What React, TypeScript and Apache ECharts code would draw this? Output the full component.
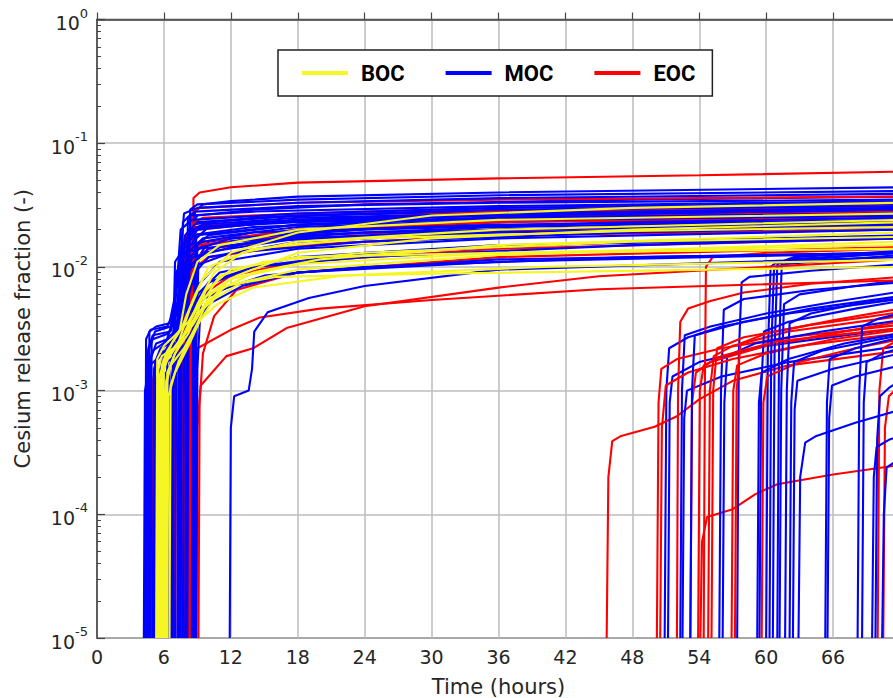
import React, { useEffect, useRef } from "react";
import * as echarts from "echarts";

type Pt = [number, number];

// Tick labels
const xTicks: number[] = [0, 6, 12, 18, 24, 30, 36, 42, 48, 54, 60, 66];
const legendNames: string[] = ["BOC", "MOC", "EOC"];

// BOC (yellow) runs: [time (h), Cs release fraction]
const bocLines: Pt[][] = [
  [[5.4, 1e-5], [5.5, 1.5e-3], [5.8, 1.9e-3], [7.2, 2.3e-3], [8.3, 4.5e-3], [9.5, 8e-3], [12, 1.3e-2], [18, 1.9e-2], [30, 2.6e-2], [48, 3.0e-2], [72, 3.3e-2]],
  [[5.6, 1e-5], [5.7, 1.2e-3], [6.2, 1.7e-3], [7.5, 2.6e-3], [8.6, 3.4e-3], [10.2, 6e-3], [12.5, 8.5e-3], [18, 1.3e-2], [30, 1.7e-2], [48, 2.0e-2], [72, 2.3e-2]],
  [[5.8, 1e-5], [5.9, 1.4e-3], [6.5, 2.0e-3], [8.0, 3.0e-3], [9.0, 4.2e-3], [11, 6.5e-3], [14, 9e-3], [20, 1.15e-2], [36, 1.5e-2], [72, 1.9e-2]],
  [[6.0, 1e-5], [6.1, 1.0e-3], [6.6, 1.6e-3], [7.8, 2.2e-3], [8.8, 3.2e-3], [10.5, 5.5e-3], [13, 7.5e-3], [18, 9.5e-3], [36, 1.25e-2], [72, 1.6e-2]],
  [[5.3, 1e-5], [5.4, 1.8e-3], [6.0, 2.3e-3], [7.0, 2.8e-3], [8.2, 3.6e-3], [9.8, 6.5e-3], [12, 9.5e-3], [18, 1.2e-2], [36, 1.3e-2], [72, 1.4e-2]],
  [[6.3, 1e-5], [6.4, 9e-4], [7.0, 1.4e-3], [8.3, 2.4e-3], [9.3, 3.8e-3], [10.8, 5e-3], [14, 6.8e-3], [22, 8.5e-3], [40, 1.0e-2], [72, 1.14e-2]],
  [[6.5, 1e-5], [6.6, 1.1e-3], [7.3, 1.7e-3], [8.5, 2.8e-3], [9.6, 4.6e-3], [11.5, 7e-3], [16, 8.3e-3], [30, 8.8e-3], [72, 1.0e-2]],
  [[5.5, 1e-5], [5.6, 1.3e-3], [6.1, 1.8e-3], [7.6, 2.5e-3], [9.0, 5e-3], [10.5, 9e-3], [13, 1.3e-2], [18, 1.6e-2], [36, 2.0e-2], [72, 2.4e-2]],
  [[6.1, 1e-5], [6.2, 1.2e-3], [6.9, 1.9e-3], [8.1, 3.3e-3], [9.4, 5.5e-3], [12, 8e-3], [18, 1.05e-2], [36, 1.3e-2], [72, 1.5e-2]],
  [[5.7, 1e-5], [5.8, 1.6e-3], [6.3, 2.1e-3], [7.4, 3.0e-3], [8.0, 6e-3], [9.0, 1.1e-2], [11, 1.5e-2], [18, 2.0e-2], [36, 2.4e-2], [72, 2.7e-2]],
  [[6.2, 1e-5], [6.3, 1.4e-3], [7.0, 2.0e-3], [8.2, 2.9e-3], [9.2, 4.8e-3], [11, 8.5e-3], [15, 1.1e-2], [24, 1.3e-2], [48, 1.6e-2], [72, 1.75e-2]],
  [[5.9, 1e-5], [6.0, 1.7e-3], [6.7, 2.4e-3], [7.7, 3.4e-3], [8.8, 6e-3], [10, 1.0e-2], [14, 1.4e-2], [24, 1.7e-2], [48, 1.95e-2], [72, 2.1e-2]],
];

// MOC (blue) runs, early release
const mocEarly: Pt[][] = [
  [[8.3, 1e-5], [8.4, 1e-3], [8.5, 1.5e-2], [8.8, 2.8e-2], [9.5, 3.2e-2], [12, 3.4e-2], [18, 3.7e-2], [36, 4.0e-2], [72, 4.4e-2]],
  [[8.2, 1e-5], [8.3, 2e-3], [8.45, 2.2e-2], [9, 2.6e-2], [14, 2.9e-2], [24, 3.2e-2], [48, 3.5e-2], [72, 3.7e-2]],
  [[7.6, 1e-5], [7.7, 2e-3], [7.85, 1.7e-2], [8.5, 2.2e-2], [14, 2.5e-2], [30, 2.8e-2], [72, 3.2e-2]],
  [[8.5, 1e-5], [8.6, 3e-3], [8.8, 2.0e-2], [10, 2.3e-2], [18, 2.6e-2], [36, 2.8e-2], [72, 3.0e-2]],
  [[7.2, 1e-5], [7.3, 2e-3], [7.5, 1.4e-2], [8.3, 1.8e-2], [14, 2.1e-2], [36, 2.5e-2], [72, 2.8e-2]],
  [[8.8, 1e-5], [8.9, 2e-3], [9.1, 1.2e-2], [10, 1.6e-2], [18, 2.0e-2], [36, 2.4e-2], [72, 2.7e-2]],
  [[4.3, 1e-5], [4.4, 2.6e-3], [4.8, 3.1e-3], [6.3, 3.3e-3], [7.2, 5e-3], [7.6, 1.4e-2], [8.5, 2.0e-2], [14, 2.3e-2], [36, 2.6e-2], [72, 2.9e-2]],
  [[4.5, 1e-5], [4.6, 2.2e-3], [5.0, 2.8e-3], [6.6, 3.0e-3], [7.4, 6e-3], [8.0, 1.1e-2], [9.5, 1.5e-2], [18, 1.9e-2], [36, 2.3e-2], [72, 2.6e-2]],
  [[4.7, 1e-5], [4.8, 1.8e-3], [5.3, 2.4e-3], [6.8, 2.7e-3], [7.6, 4e-3], [8.3, 8e-3], [10, 1.2e-2], [18, 1.6e-2], [36, 1.9e-2], [72, 2.2e-2]],
  [[5.0, 1e-5], [5.1, 1.5e-3], [5.6, 2e-3], [7.0, 2.3e-3], [8.0, 3.5e-3], [9.0, 7e-3], [11, 1.1e-2], [18, 1.4e-2], [36, 1.7e-2], [72, 2.0e-2]],
  [[4.2, 1e-5], [4.3, 1.0e-3], [4.7, 1.6e-3], [6.0, 2e-3], [7.1, 3e-3], [7.7, 1.2e-2], [9, 1.8e-2], [18, 2.2e-2], [36, 2.5e-2], [72, 2.7e-2]],
  [[6.8, 1e-5], [6.9, 1.5e-3], [7.1, 9e-3], [8, 1.3e-2], [12, 1.7e-2], [24, 2.0e-2], [48, 2.3e-2], [72, 2.5e-2]],
  [[7.0, 1e-5], [7.1, 1.5e-3], [7.3, 6e-3], [8.5, 1.0e-2], [12, 1.3e-2], [24, 1.6e-2], [48, 1.9e-2], [72, 2.1e-2]],
  [[7.4, 1e-5], [7.5, 2.5e-3], [7.7, 2.3e-2], [8.3, 2.6e-2], [14, 2.8e-2], [36, 3.1e-2], [72, 3.4e-2]],
  [[8.0, 1e-5], [8.1, 2e-3], [8.25, 1.6e-2], [9, 2e-2], [18, 2.4e-2], [36, 2.7e-2], [72, 3.0e-2]],
  [[5.2, 1e-5], [5.3, 1.2e-3], [5.8, 1.6e-3], [7.4, 2.0e-3], [8.6, 3e-3], [10, 5e-3], [13, 7e-3], [18, 9e-3], [36, 1.15e-2], [72, 1.3e-2]],
  [[5.4, 1e-5], [5.5, 1.0e-3], [6.2, 1.4e-3], [7.8, 2.2e-3], [9.2, 4e-3], [11, 6.5e-3], [15, 8.5e-3], [24, 1.0e-2], [48, 1.2e-2], [72, 1.3e-2]],
  [[7.7, 1e-5], [7.8, 1.8e-3], [8.2, 3.5e-3], [9.5, 5.5e-3], [12, 7e-3], [18, 9e-3], [36, 1.1e-2], [72, 1.3e-2]],
  [[6.6, 1e-5], [6.7, 1.3e-3], [7.2, 2.4e-3], [8.4, 4.5e-3], [10, 7.5e-3], [14, 1.0e-2], [24, 1.2e-2], [48, 1.5e-2], [72, 1.7e-2]],
  [[6.2, 1e-5], [6.3, 2e-3], [6.8, 2.9e-3], [7.6, 4.5e-3], [8.2, 1.0e-2], [10, 1.4e-2], [18, 1.8e-2], [36, 2.1e-2], [72, 2.4e-2]],
  [[11.9, 1e-5], [12.0, 5e-4], [12.3, 9e-4], [13.6, 1.0e-3], [13.9, 1.5e-3], [14.1, 3e-3], [15.3, 4.3e-3], [19, 5.6e-3], [24, 7e-3], [36, 9.5e-3], [72, 1.2e-2]],
  [[8.9, 1e-5], [9.0, 1.5e-3], [9.3, 5e-3], [10.5, 7.5e-3], [14, 1.0e-2], [24, 1.3e-2], [48, 1.6e-2], [72, 1.8e-2]],
  [[4.8, 1e-5], [4.9, 2.5e-3], [5.2, 3.0e-3], [6.6, 3.3e-3], [7.1, 6e-3], [7.5, 2.0e-2], [8.5, 2.4e-2], [18, 2.7e-2], [36, 3.0e-2], [72, 3.3e-2]],
  [[5.7, 1e-5], [5.8, 2.2e-3], [6.4, 2.7e-3], [7.3, 3.2e-3], [7.9, 1.6e-2], [9, 2.1e-2], [18, 2.4e-2], [36, 2.6e-2], [72, 2.9e-2]],
  [[8.6, 1e-5], [8.7, 2.5e-3], [8.9, 1.7e-2], [10, 2.1e-2], [18, 2.3e-2], [36, 2.5e-2], [72, 2.6e-2]],
  [[6.4, 1e-5], [6.5, 1.5e-3], [7.0, 2.0e-3], [8.0, 5e-3], [9.2, 1.2e-2], [12, 1.6e-2], [24, 1.9e-2], [48, 2.1e-2], [72, 2.3e-2]],
  [[7.5, 1e-5], [7.6, 2e-3], [7.8, 1.05e-2], [9, 1.4e-2], [18, 1.7e-2], [36, 1.9e-2], [72, 2.1e-2]],
  [[4.6, 1e-5], [4.7, 3.0e-3], [5.3, 3.3e-3], [6.5, 3.5e-3], [7.3, 8e-3], [7.8, 2.7e-2], [9, 3.0e-2], [18, 3.3e-2], [36, 3.6e-2], [72, 3.9e-2]],
  [[4.4, 1e-5], [4.5, 2.0e-3], [5.0, 2.6e-3], [6.4, 2.9e-3], [7.3, 4.5e-3], [7.9, 1.8e-2], [9, 2.3e-2], [18, 2.6e-2], [36, 2.9e-2], [72, 3.1e-2]],
  [[5.1, 1e-5], [5.2, 1.7e-3], [5.7, 2.2e-3], [7.1, 2.6e-3], [7.7, 5e-3], [8.2, 1.9e-2], [9.5, 2.2e-2], [18, 2.5e-2], [36, 2.7e-2], [72, 2.9e-2]],
  [[5.9, 1e-5], [6.0, 1.9e-3], [6.6, 2.5e-3], [7.5, 3.5e-3], [8.1, 1.3e-2], [9.5, 1.7e-2], [18, 2.1e-2], [36, 2.4e-2], [72, 2.6e-2]],
  [[7.9, 1e-5], [8.0, 2e-3], [8.15, 2.5e-2], [8.8, 2.8e-2], [18, 3.1e-2], [36, 3.3e-2], [72, 3.5e-2]],
  [[8.7, 1e-5], [8.8, 2e-3], [9.0, 1.5e-2], [10, 1.8e-2], [18, 2.2e-2], [36, 2.5e-2], [72, 2.7e-2]],
  [[6.0, 1e-5], [6.1, 1.2e-3], [6.7, 1.8e-3], [8.0, 3e-3], [9.0, 6e-3], [11, 9e-3], [18, 1.2e-2], [36, 1.5e-2], [72, 1.7e-2]],
  [[7.3, 1e-5], [7.4, 1.8e-3], [7.6, 8e-3], [8.6, 1.2e-2], [14, 1.6e-2], [36, 2.0e-2], [72, 2.2e-2]],
  [[4.4, 1e-5], [4.5, 1.5e-3], [5.0, 2.1e-3], [6.2, 2.5e-3], [7.0, 4e-3], [7.8, 9e-3], [9.5, 1.3e-2], [18, 1.7e-2], [36, 2.0e-2], [72, 2.3e-2]],
  [[8.1, 1e-5], [8.2, 2e-3], [8.35, 2.9e-2], [9, 3.2e-2], [18, 3.5e-2], [36, 3.8e-2], [72, 4.1e-2]],
  [[6.7, 1e-5], [6.8, 2e-3], [7.0, 1.1e-2], [8, 1.5e-2], [14, 1.9e-2], [36, 2.2e-2], [72, 2.4e-2]],
];

// EOC (red) runs, early release
const eocEarly: Pt[][] = [
  [[8.4, 1e-5], [8.5, 5e-4], [8.65, 3.6e-2], [9.2, 4.0e-2], [12, 4.4e-2], [18, 4.8e-2], [36, 5.2e-2], [54, 5.5e-2], [72, 5.9e-2]],
  [[8.9, 1e-5], [9.0, 5e-4], [9.3, 1.1e-3], [11.6, 1.9e-3], [14, 2.2e-3], [17, 3.2e-3], [24, 4.8e-3], [36, 6.8e-3], [45, 8.4e-3], [72, 1.15e-2]],
  [[8.5, 1e-5], [8.6, 1.2e-3], [9.0, 2.2e-3], [12, 3.1e-3], [14.6, 3.9e-3], [20, 4.6e-3], [30, 5.4e-3], [45, 6.6e-3], [72, 7.8e-3]],
  [[7.4, 1e-5], [7.5, 1e-3], [7.6, 6.5e-3], [8.2, 9e-3], [10, 1.2e-2], [18, 1.5e-2], [36, 1.8e-2], [72, 2.0e-2]],
  [[4.9, 1e-5], [5.0, 1.2e-3], [5.4, 1.8e-3], [6.5, 2.2e-3], [7.3, 3.5e-3], [8.0, 1.5e-2], [9, 2.0e-2], [18, 2.4e-2], [36, 2.8e-2], [72, 3.1e-2]],
  [[7.8, 1e-5], [7.9, 2e-3], [8.05, 1.8e-2], [8.6, 2.1e-2], [14, 2.3e-2], [36, 2.6e-2], [72, 2.8e-2]],
  [[8.2, 1e-5], [8.3, 2e-3], [8.5, 2.7e-2], [9.2, 3.0e-2], [18, 3.3e-2], [36, 3.5e-2], [72, 3.7e-2]],
  [[7.0, 1e-5], [7.1, 1.8e-3], [7.4, 4e-3], [8.4, 1.1e-2], [10, 1.4e-2], [18, 1.7e-2], [48, 2.1e-2], [72, 2.3e-2]],
  [[6.9, 1e-5], [7.0, 1.5e-3], [7.5, 3e-3], [9.5, 6e-3], [12, 8.5e-3], [18, 1.1e-2], [36, 1.4e-2], [72, 1.7e-2]],
  [[8.3, 1e-5], [8.4, 2e-3], [8.6, 1.3e-2], [9.5, 1.6e-2], [18, 2.0e-2], [36, 2.3e-2], [72, 2.5e-2]],
  [[9.1, 1e-5], [9.2, 8e-4], [9.5, 2.0e-3], [10.5, 4e-3], [12.5, 6.5e-3], [18, 9e-3], [36, 1.2e-2], [72, 1.45e-2]],
  [[7.6, 1e-5], [7.7, 1.5e-3], [7.9, 1.2e-2], [8.8, 1.5e-2], [18, 1.8e-2], [36, 2.0e-2], [72, 2.2e-2]],
  [[8.1, 1e-5], [8.2, 2e-3], [8.4, 2.2e-2], [9.5, 2.5e-2], [18, 2.7e-2], [36, 3.0e-2], [72, 3.3e-2]],
];

// EOC (red) runs, late release
const eocLate: Pt[][] = [
  [[45.7, 1e-5], [45.85, 2e-4], [46.2, 3.9e-4], [47, 4.3e-4], [50, 5.1e-4], [52, 6.2e-4], [54, 8.5e-4], [57, 1.2e-3], [62, 1.6e-3], [72, 2.1e-3]],
  [[54.1, 1e-5], [54.25, 6e-5], [54.7, 9.5e-5], [57, 1.1e-4], [59, 1.45e-4], [61, 1.75e-4], [66, 2.1e-4], [72, 2.5e-4]],
  [[54.4, 1e-5], [54.5, 1e-3], [54.6, 1.0e-2], [55.2, 1.2e-2], [60, 1.3e-2], [72, 1.4e-2]],
  [[52.0, 1e-5], [52.1, 1e-3], [52.3, 3.6e-3], [53, 4.6e-3], [55, 5.3e-3], [58, 6.2e-3], [64, 7.3e-3], [72, 8.3e-3]],
  [[50.2, 1e-5], [50.35, 8e-4], [50.6, 1.5e-3], [52, 1.8e-3], [56, 2.2e-3], [62, 2.7e-3], [72, 3.4e-3]],
  [[50.5, 1e-5], [50.65, 5e-4], [51, 1.1e-3], [53, 1.4e-3], [57, 1.8e-3], [63, 2.3e-3], [72, 2.9e-3]],
  [[53.2, 1e-5], [53.35, 8e-4], [53.7, 1.4e-3], [55, 1.7e-3], [60, 2.3e-3], [66, 2.9e-3], [72, 3.6e-3]],
  [[54.8, 1e-5], [54.95, 1e-3], [55.3, 1.9e-3], [57, 2.3e-3], [62, 3.0e-3], [72, 4.0e-3]],
  [[55.1, 1e-5], [55.25, 1e-3], [55.6, 2.2e-3], [58, 2.7e-3], [64, 3.4e-3], [72, 4.3e-3]],
  [[56.9, 1e-5], [57.05, 1e-3], [57.4, 1.6e-3], [60, 2.0e-3], [66, 2.6e-3], [72, 3.1e-3]],
  [[57.2, 1e-5], [57.35, 1e-3], [57.7, 2.4e-3], [60, 2.9e-3], [66, 3.7e-3], [72, 4.6e-3]],
  [[59.6, 1e-5], [59.75, 8e-4], [60.1, 1.3e-3], [63, 1.7e-3], [68, 2.2e-3], [72, 2.6e-3]],
  [[70.0, 1e-5], [70.15, 1e-3], [70.5, 2.2e-3], [72, 2.6e-3]],
  [[70.5, 1e-5], [70.65, 5e-4], [71, 9e-4], [72, 1.1e-3]],
  [[53.9, 1e-5], [54.05, 1e-3], [54.4, 1.6e-3], [56, 1.9e-3], [61, 2.5e-3], [72, 3.2e-3]],
];

// MOC (blue) runs, late release
const mocLate: Pt[][] = [
  [[50.9, 1e-5], [51.05, 1e-3], [51.3, 2.2e-3], [53, 2.7e-3], [58, 3.6e-3], [64, 4.6e-3], [72, 5.8e-3]],
  [[51.2, 1e-5], [51.35, 8e-4], [51.6, 1.3e-3], [54, 1.7e-3], [60, 2.3e-3], [72, 3.2e-3]],
  [[52.3, 1e-5], [52.45, 1e-3], [52.7, 2.8e-3], [55, 3.3e-3], [60, 4.2e-3], [66, 5.2e-3], [72, 6.3e-3]],
  [[52.5, 1e-5], [52.65, 6e-4], [52.9, 1.0e-3], [56, 1.3e-3], [62, 1.7e-3], [72, 2.3e-3]],
  [[55.8, 1e-5], [55.95, 1e-3], [56.2, 4.5e-3], [58, 5.5e-3], [64, 6.5e-3], [72, 7.5e-3]],
  [[56.1, 1e-5], [56.25, 8e-4], [56.5, 1.9e-3], [59, 2.4e-3], [65, 3.0e-3], [72, 3.7e-3]],
  [[57.4, 1e-5], [57.55, 2e-3], [57.8, 7.5e-3], [58.5, 8.3e-3], [64, 9.3e-3], [72, 1.05e-2]],
  [[59.2, 1e-5], [59.35, 8e-4], [59.6, 1.4e-3], [62, 1.8e-3], [67, 2.4e-3], [72, 2.9e-3]],
  [[59.4, 1e-5], [59.55, 1e-3], [59.8, 3.0e-3], [62, 3.6e-3], [68, 4.6e-3], [72, 5.3e-3]],
  [[60.0, 1e-5], [60.15, 2e-3], [60.4, 1.0e-2], [61, 1.1e-2], [66, 1.2e-2], [72, 1.3e-2]],
  [[60.6, 1e-5], [60.75, 2e-3], [61.0, 1.05e-2], [62, 1.15e-2], [72, 1.3e-2]],
  [[61.0, 1e-5], [61.15, 2e-3], [61.4, 1.1e-2], [62.5, 1.2e-2], [72, 1.35e-2]],
  [[61.2, 1e-5], [61.35, 1e-3], [61.6, 5e-3], [63, 6e-3], [68, 7e-3], [72, 7.8e-3]],
  [[61.7, 1e-5], [61.85, 1e-3], [62.1, 3.5e-3], [64, 4.2e-3], [68, 5e-3], [72, 5.6e-3]],
  [[62.1, 1e-5], [62.25, 8e-4], [62.5, 1.7e-3], [65, 2.1e-3], [72, 2.8e-3]],
  [[62.4, 1e-5], [62.55, 7e-4], [62.8, 1.2e-3], [66, 1.5e-3], [72, 2.0e-3]],
  [[62.9, 1e-5], [63.05, 2e-4], [63.5, 3.8e-4], [64.5, 4.3e-4], [68, 5.5e-4], [72, 7e-4]],
  [[65.3, 1e-5], [65.45, 8e-4], [65.7, 1.8e-3], [68, 2.2e-3], [72, 2.7e-3]],
  [[65.5, 1e-5], [65.65, 6e-4], [65.9, 1.1e-3], [68, 1.3e-3], [72, 1.6e-3]],
  [[68.2, 1e-5], [68.35, 1e-3], [68.6, 3.3e-3], [70, 3.8e-3], [72, 4.2e-3]],
  [[68.6, 1e-5], [68.75, 8e-4], [69, 1.7e-3], [70.5, 2e-3], [72, 2.2e-3]],
  [[69.5, 1e-5], [69.65, 2e-4], [69.9, 3.5e-4], [71, 4e-4], [72, 4.3e-4]],
  [[69.8, 1e-5], [69.95, 4e-4], [70.2, 9e-4], [71, 1.05e-3], [72, 1.2e-3]],
  [[70.4, 1e-5], [70.55, 1e-4], [70.8, 2.4e-4], [72, 2.8e-4]],
  [[53.2, 1e-5], [53.35, 1e-3], [53.6, 2.8e-3], [56, 3.3e-3], [62, 4.2e-3], [72, 5.5e-3]],
  [[60.3, 1e-5], [60.45, 2e-3], [60.7, 9.5e-3], [61.5, 1.05e-2], [72, 1.25e-2]],
];

const COLORS: Record<string, string> = { BOC: "#f6f625", MOC: "#0000ff", EOC: "#ff0000" };
const FONT = "'DejaVu Sans', sans-serif";

function lineSeries(name: string, data: Pt[]) {
  return {
    type: "line",
    name,
    data,
    color: COLORS[name],
    symbol: "none",
    showSymbol: false,
    silent: true,
    lineStyle: { color: COLORS[name], width: 2.1 },
    z: 3,
  };
}

export default function App() {
  const ref = useRef<HTMLDivElement>(null);
  useEffect(() => {
    if (!ref.current) return;
    const chart = echarts.init(ref.current, null, { renderer: "svg" });

    const series: any[] = [];
    const nLate = Math.max(eocLate.length, mocLate.length);
    for (let i = 0; i < nLate; i++) {
      if (mocLate[i]) series.push(lineSeries("MOC", mocLate[i]));
      if (eocLate[i]) series.push(lineSeries("EOC", eocLate[i]));
    }
    const nEarly = Math.max(eocEarly.length, mocEarly.length);
    for (let i = 0; i < nEarly; i++) {
      if (eocEarly[i]) series.push(lineSeries("EOC", eocEarly[i]));
      if (mocEarly[i]) series.push(lineSeries("MOC", mocEarly[i]));
    }
    bocLines.forEach((l) => series.push(lineSeries("BOC", l)));

    // minor log ticks (positions in decade units on a helper axis)
    const minorTicks: number[] = [];
    for (let d = -5; d < 0; d++) {
      for (let k = 2; k <= 9; k++) minorTicks.push(d + Math.log10(k));
    }

    chart.setOption({
      animation: false,
      backgroundColor: "#ffffff",
      grid: {
        left: 97,
        right: -7,
        top: 19.5,
        bottom: 60,
        containLabel: false,
        outerBoundsMode: "none",
        show: true,
        borderColor: "#444",
        borderWidth: 1.5,
      },
      legend: {
        data: legendNames,
        left: 278,
        top: 50,
        orient: "horizontal",
        icon: "rect",
        itemWidth: 46,
        itemHeight: 4,
        itemGap: 41,
        padding: [12, 17, 12, 24],
        borderColor: "#222",
        borderWidth: 1.5,
        borderRadius: 0,
        backgroundColor: "#ffffff",
        selectedMode: false,
        textStyle: {
          fontFamily: "Roboto, sans-serif",
          fontWeight: "bold",
          fontSize: 22,
          color: "#000",
          padding: [0, 0, 0, 8],
        },
        z: 10,
      },
      xAxis: {
        type: "value",
        min: 0,
        max: 72,
        interval: 6,
        name: "Time (hours)",
        nameLocation: "middle",
        nameGap: 38,
        nameTextStyle: { fontFamily: FONT, fontSize: 21, color: "#262626" },
        axisLine: { show: true, lineStyle: { color: "#444", width: 1.5 } },
        axisTick: { show: true, inside: true, length: 7, lineStyle: { color: "#444", width: 1.2 } },
        axisLabel: {
          fontFamily: FONT,
          fontSize: 19,
          color: "#262626",
          margin: 9,
          formatter: (v: number) => (xTicks.indexOf(v) >= 0 ? String(v) : ""),
        },
        splitLine: { show: true, lineStyle: { color: "#bdbdbd", width: 1.5 } },
      },
      yAxis: [
        {
          type: "log",
          logBase: 10,
          min: 1e-5,
          max: 1,
          interval: 1,
          name: "Cesium release fraction (-)",
          nameLocation: "middle",
          nameGap: 64,
          nameTextStyle: { fontFamily: FONT, fontSize: 21, color: "#262626" },
          axisLine: { show: true, lineStyle: { color: "#444", width: 1.5 } },
          axisTick: { show: true, inside: true, length: 8, lineStyle: { color: "#444", width: 1.2 } },
          axisLabel: {
            margin: 9,
            formatter: (v: number) => {
              const e = Math.round(Math.log10(v));
              return "{b|10}{s|" + e + "}";
            },
            rich: {
              b: { fontFamily: FONT, fontSize: 19, color: "#262626", verticalAlign: "bottom", lineHeight: 26 },
              s: { fontFamily: FONT, fontSize: 13, color: "#262626", verticalAlign: "top", lineHeight: 14 },
            },
          },
          splitLine: { show: true, lineStyle: { color: "#bdbdbd", width: 1.5 } },
        },
        {
          type: "value",
          min: -5,
          max: 0,
          position: "left",
          axisLine: { show: false },
          axisLabel: { show: false },
          splitLine: { show: false },
          axisTick: {
            show: true,
            inside: true,
            length: 4,
            customValues: minorTicks,
            lineStyle: { color: "#444", width: 1 },
          },
        },
      ],
      series,
    });
    return () => chart.dispose();
  }, []);

  return (
    <div style={{ position: "fixed", left: 0, top: 0, width: 893, height: 698, overflow: "hidden", background: "#fff" }}>
      <div ref={ref} style={{ width: 893, height: 698 }} />
    </div>
  );
}
